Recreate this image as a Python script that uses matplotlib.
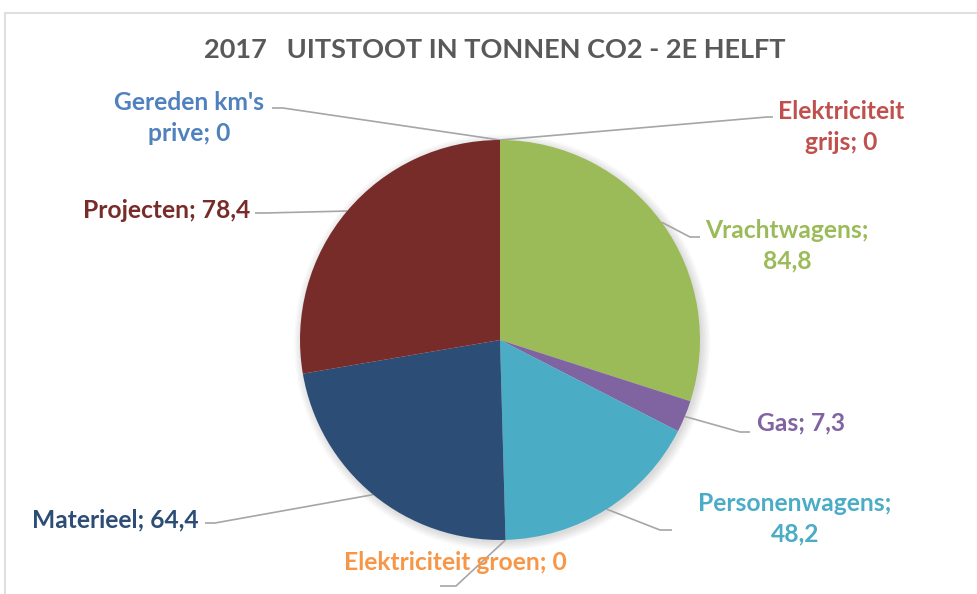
import numpy as np
import matplotlib.pyplot as plt
from matplotlib.patches import Rectangle, Circle

# data (clockwise from 12 o'clock)
names = ["Elektriciteit grijs", "Vrachtwagens", "Gas", "Personenwagens",
         "Elektriciteit groen", "Materieel", "Projecten", "Gereden km's prive"]
values = [0, 84.8, 7.3, 48.2, 0, 64.4, 78.4, 0]
colors = ["#C0504D", "#9BBB59", "#8064A2", "#4BACC6",
          "#F79646", "#2C4D75", "#772C2A", "#4F81BD"]
title = "2017   UITSTOOT IN TONNEN CO2 - 2E HELFT"

W, H = 977, 594
CX, CY, R = 500, 340, 200

plt.rcParams['font.family'] = ['Lato', 'DejaVu Sans']

fig = plt.figure(figsize=(W / 100, H / 100), dpi=100)
ax = fig.add_axes([0, 0, 1, 1])


def px(x, y):
    # pixel position -> data units (radius = 1)
    return (x - CX) / R, (CY - y) / R


# soft shadow behind the pie
for i in range(6):
    ax.add_patch(Circle((0.01, -0.012), 1 + 0.008 * i, color='k', alpha=0.025,
                        lw=0, zorder=0))

wedges, _ = ax.pie(values, colors=colors, startangle=90, counterclock=False,
                   radius=1, wedgeprops=dict(linewidth=0, zorder=2))
ax.set_xlim(px(0, 0)[0], px(W, 0)[0])
ax.set_ylim(px(0, H)[1], px(0, 0)[1])
ax.set_aspect('auto')
ax.axis('off')

# chart border
fig.patches.append(Rectangle((5 / W, -0.1), 1.2, 1 - 13 / H + 0.1, transform=fig.transFigure,
                             fill=False, edgecolor="#D9D9D9", linewidth=1.2))

fig.text(0.5 * (203 + 786) / W, 1 - 50 / H, title, ha='center', va='center',
         fontsize=19.5, fontweight='bold', color='#595959')

# label layout: text, text pos (px), alignment, leader points (px)
layout = {
    "Elektriciteit grijs": ("Elektriciteit\ngrijs", (841, 127), 'center', [(767, 117), (773, 117)]),
    "Vrachtwagens": ("Vrachtwagens;", (787, 246), 'center', [(690, 237), (700, 237)]),
    "Gas": ("Gas", (757, 423), 'left', [(740, 432), (750, 432)]),
    "Personenwagens": ("Personenwagens;", (795, 519), 'center', [(660, 530), (672, 530)]),
    "Elektriciteit groen": ("Elektriciteit groen", (455, 563), 'center', [(456, 586), (440, 586)]),
    "Materieel": ("Materieel", (199, 520), 'right', [(215, 523), (205, 523)]),
    "Projecten": ("Projecten", (250, 210), 'right', [(265, 213), (255, 213)]),
    "Gereden km's prive": ("Gereden km's\nprive", (189, 118), 'center', [(283, 108), (272, 108)]),
}

for w, name, v, c in zip(wedges, names, values, colors):
    txt, (tx, ty), ha, pts = layout[name]
    val = ('%g' % v).replace('.', ',')
    if txt.endswith(';'):
        label = txt + "\n" + val
    else:
        label = txt + "; " + val
    ang = np.deg2rad((w.theta1 + w.theta2) / 2)
    line = [(np.cos(ang), np.sin(ang))] + [px(*p) for p in pts]
    xs, ys = zip(*line)
    ax.plot(xs, ys, color='#A6A6A6', lw=1.2, solid_capstyle='butt', zorder=1)
    ax.text(*px(tx, ty), label, ha=ha, va='center', color=c, fontsize=17.7,
            fontweight='bold', linespacing=1.4)

fig.savefig('out.png', dpi=100)
